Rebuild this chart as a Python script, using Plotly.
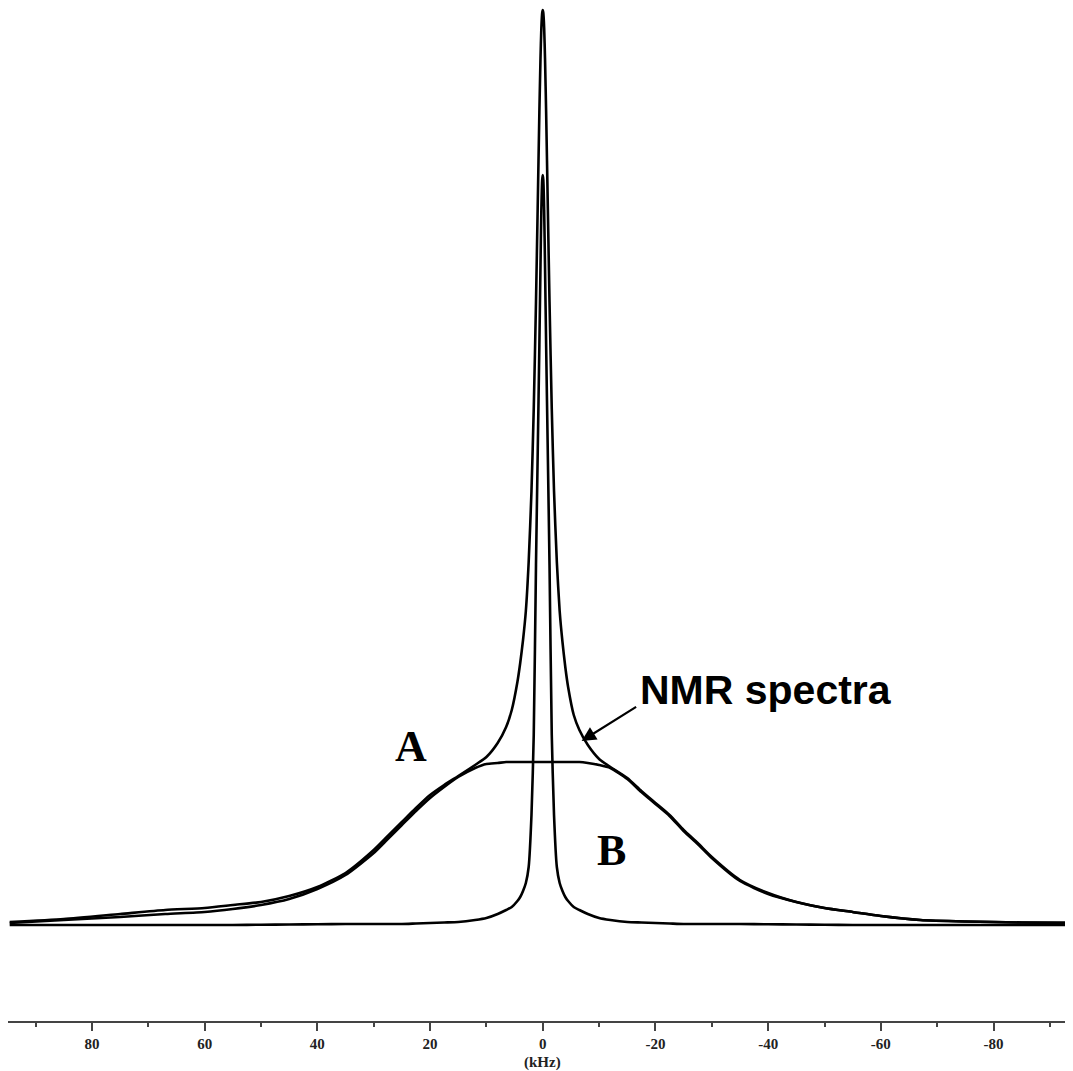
import plotly.graph_objects as go

# Frequency grid (kHz)
freq_khz = [94.6, 85, 75, 67, 60, 55, 50, 45, 40, 35, 30, 27.5, 25, 22.5, 20, 17.5, 15, 12, 10, 8,
            6.5, 5.5, 4.5, 4, 3.5, 3, 2.5, 2, 1.6, 1.2, 0.9, 0.6, 0.4, 0.25, 0.1, 0,
            -0.1, -0.25, -0.4, -0.6, -0.9, -1.2, -1.6, -2, -2.5, -3, -3.5, -4, -4.5, -5.5,
            -6.5, -8, -10, -12, -15, -17.5, -20, -22.5, -25, -27.5, -30, -35, -40, -45, -50,
            -55, -60, -67, -75, -85, -94.1]

# Component A (broad, flat-topped)
comp_a = [2, 5, 8, 11, 13, 16, 20, 26, 36, 50, 72, 86, 100, 114, 127, 138, 148, 157, 161, 162,
          163, 163, 163, 163, 163, 163, 163, 163, 163, 163, 163, 163, 163, 163, 163, 163,
          163, 163, 163, 163, 163, 163, 163, 163, 163, 163, 163, 163, 163, 163,
          163, 162, 160, 157, 146, 133, 121, 109, 94, 81, 67, 44, 31, 23, 17,
          13, 9, 5, 3.5, 2.5, 2]

# Component B (narrow central line)
comp_b = [0, 0, 0, 0, 0, 0, 0.3, 0.5, 0.7, 1, 1, 1, 1, 1.5, 2, 2.5, 3, 5, 7, 11,
          15, 18, 24, 28, 34, 42, 58, 110, 190, 360, 470, 580, 660, 715, 745, 750,
          745, 715, 660, 580, 470, 360, 190, 110, 58, 42, 34, 28, 24, 18,
          15, 11, 7, 5, 3, 2.5, 2, 1.5, 1, 1, 1, 1, 0.7, 0.5, 0.3,
          0, 0, 0, 0, 0, 0]

# Measured NMR spectrum
spectrum = [3, 6, 11, 15, 17, 20, 23, 29, 38, 52, 75, 89, 103, 117, 130, 140, 149, 160, 168, 182,
            198, 215, 243, 262, 285, 314, 363, 434, 516, 623, 717, 813, 867, 897, 912, 915,
            912, 897, 867, 813, 717, 623, 516, 434, 363, 314, 283, 258, 238, 210,
            195, 180, 166, 158, 147, 134, 122, 110, 95, 82, 68, 45, 32, 23, 17,
            13, 9, 5, 3.5, 2.5, 2]

tick_vals = [80, 60, 40, 20, 0, -20, -40, -60, -80]
tick_text = ["80", "60", "40", "20", "0", "-20", "-40", "-60", "-80"]

line_style = dict(color="black", width=2.6, shape="spline", smoothing=0.6)

fig = go.Figure()
fig.add_trace(go.Scatter(x=freq_khz, y=comp_b, mode="lines", line=line_style, name="B"))
fig.add_trace(go.Scatter(x=freq_khz, y=comp_a, mode="lines", line=line_style, name="A"))
fig.add_trace(go.Scatter(x=freq_khz, y=spectrum, mode="lines", line=line_style, name="NMR spectra"))

fig.update_layout(
    width=1065, height=1063,
    margin=dict(l=0, r=0, t=0, b=50),
    paper_bgcolor="white", plot_bgcolor="white",
    showlegend=False,
    xaxis=dict(
        range=[94.9, -94.1], showgrid=False, zeroline=False,
        showline=True, linecolor="#444", linewidth=2,
        ticks="outside", ticklen=8, tickwidth=2, tickcolor="#444",
        tickvals=tick_vals, ticktext=["<b>" + t + "</b>" for t in tick_text],
        tickfont=dict(family="Liberation Serif", size=15, color="#222"),
        minor=dict(dtick=10, ticks="outside", ticklen=4, tickwidth=2, tickcolor="#444"),
    ),
    yaxis=dict(range=[-96, 917], visible=False, showgrid=False, zeroline=False),
    annotations=[
        dict(x=0, y=-0.041, xref="x", yref="paper", text="<b>(kHz)</b>", showarrow=False,
             font=dict(family="Liberation Serif", size=15, color="#222"), yanchor="middle"),
        dict(x=23.4, y=179, xref="x", yref="y", text="<b>A</b>", showarrow=False,
             font=dict(family="Liberation Serif", size=44, color="black")),
        dict(x=-12.2, y=75, xref="x", yref="y", text="<b>B</b>", showarrow=False,
             font=dict(family="Liberation Serif", size=44, color="black")),
        dict(x=-39.6, y=235, xref="x", yref="y", text="<b>NMR spectra</b>", showarrow=False,
             font=dict(family="Liberation Sans", size=41, color="black")),
        dict(x=-6.9, y=184, xref="x", yref="y", text="", showarrow=True,
             ax=56, ay=-35, arrowhead=2, arrowsize=1.3, arrowwidth=2.2, arrowcolor="black",
             standoff=0),
    ],
)

fig.write_html("out.html")
